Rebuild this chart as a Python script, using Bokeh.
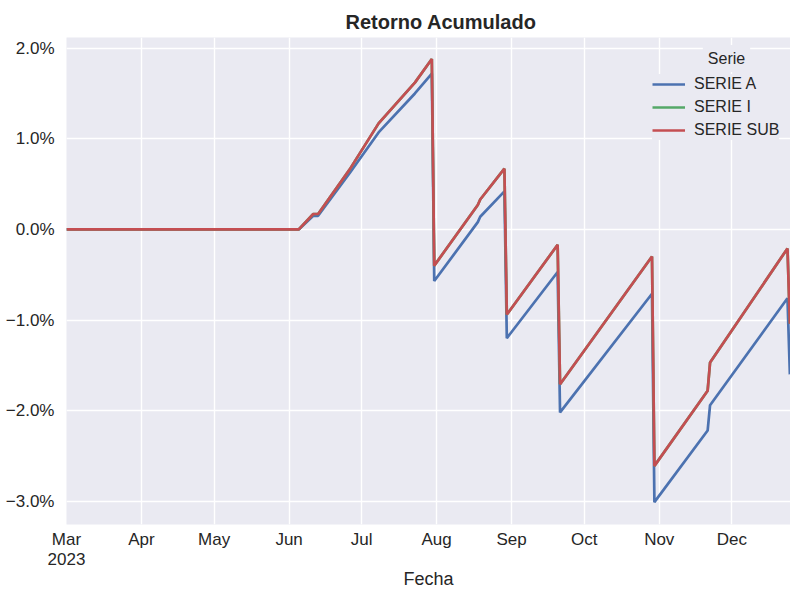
import pandas as pd
from bokeh.plotting import figure
from bokeh.models import FixedTicker, Range1d, Legend, LegendItem, Label
from bokeh.embed import file_html
from bokeh.resources import INLINE

# ---- data (values in %) ----
fechas = ["2023-03-01", "2023-06-05", "2023-06-11", "2023-06-13", "2023-06-26",
          "2023-07-08", "2023-07-23", "2023-07-30", "2023-07-31", "2023-08-18",
          "2023-08-19", "2023-08-29", "2023-08-30", "2023-09-20", "2023-09-21",
          "2023-10-29", "2023-10-30", "2023-11-21", "2023-11-22", "2023-12-24",
          "2023-12-25"]
serie_a = [0.0, 0.0, 0.15, 0.15, 0.62,
           1.07, 1.50, 1.72, -0.57, 0.08,
           0.14, 0.42, -1.20, -0.47, -2.02,
           -0.71, -3.01, -2.22, -1.94, -0.76,
           -1.60]
serie_i = [0.0, 0.0, 0.17, 0.17, 0.66,
           1.17, 1.62, 1.88, -0.40, 0.27,
           0.33, 0.67, -0.94, -0.17, -1.71,
           -0.30, -2.61, -1.78, -1.47, -0.21,
           -1.04]
serie_sub = [0.0, 0.0, 0.17, 0.17, 0.66,
             1.17, 1.62, 1.88, -0.40, 0.27,
             0.33, 0.67, -0.94, -0.17, -1.71,
             -0.30, -2.61, -1.78, -1.47, -0.21,
             -1.04]

y_ticks = [-3, -2, -1, 0, 1, 2]
y_tick_labels = ["\u22123.0%", "\u22122.0%", "\u22121.0%", "0.0%", "1.0%", "2.0%"]
x_tick_dates = ["2023-03-01", "2023-04-01", "2023-05-01", "2023-06-01", "2023-07-01",
                "2023-08-01", "2023-09-01", "2023-10-01", "2023-11-01", "2023-12-01"]
x_tick_labels = ["Mar\n2023", "Apr", "May", "Jun", "Jul", "Aug", "Sep", "Oct", "Nov", "Dec"]
series_names = ["SERIE A", "SERIE I", "SERIE SUB"]
legend_title = "Serie"
x_label = "Fecha"
title = "Retorno Acumulado"

FONT = "Liberation Sans"
TXT = "#262626"
BG = "#eaeaf2"

x = pd.to_datetime(fechas)
x_tick_ms = [int(pd.Timestamp(d).value // 10**6) for d in x_tick_dates]

p = figure(width=790, height=592, x_axis_type="datetime",
           output_backend="svg", toolbar_location=None,
           x_range=Range1d(pd.Timestamp("2023-03-01"), pd.Timestamp("2023-12-25 06:00")),
           y_range=Range1d(-3.257, 2.118),
           min_border_left=66, min_border_right=0, min_border_top=37, min_border_bottom=60)

p.background_fill_color = BG
p.border_fill_color = "white"
p.outline_line_color = None

p.title.text = title
p.title.text_font = FONT
p.title.text_font_size = "20px"
p.title.text_font_style = "bold"
p.title.text_color = TXT
p.title.align = "left"
p.title.offset = 279

xt = FixedTicker(ticks=x_tick_ms)
yt = FixedTicker(ticks=y_ticks)
p.xaxis.ticker = xt
p.yaxis.ticker = yt
p.xgrid.ticker = xt
p.ygrid.ticker = yt
p.xaxis.major_label_overrides = {t: l for t, l in zip(x_tick_ms, x_tick_labels)}
p.yaxis.major_label_overrides = {t: l for t, l in zip(y_ticks, y_tick_labels)}

for ax in (p.xaxis, p.yaxis):
    ax.axis_line_color = None
    ax.major_tick_line_color = None
    ax.minor_tick_line_color = None
    ax.major_tick_out = 0
    ax.major_tick_in = 0
    ax.major_label_text_font = FONT
    ax.major_label_text_font_size = "17px"
    ax.major_label_text_color = TXT
p.xaxis.major_label_standoff = 5
p.xaxis.major_label_text_line_height = 1.1
p.yaxis.major_label_standoff = 12
p.xaxis.axis_label = x_label
p.xaxis.axis_label_text_font = FONT
p.xaxis.axis_label_text_font_size = "18px"
p.xaxis.axis_label_text_font_style = "normal"
p.xaxis.axis_label_text_color = TXT
p.xaxis.axis_label_standoff = -3

p.grid.grid_line_color = "white"
p.grid.grid_line_width = 1.4

r_a = p.line(x, serie_a, line_color="#4c72b0", line_width=2.7)
r_i = p.line(x, serie_i, line_color="#55a868", line_width=2.7)
r_s = p.line(x, serie_sub, line_color="#c44e52", line_width=2.7)

legend = Legend(items=[LegendItem(label=series_names[0], renderers=[r_a]),
                       LegendItem(label=series_names[1], renderers=[r_i]),
                       LegendItem(label=series_names[2], renderers=[r_s])],
                location=(586, 384),
                label_text_font=FONT, label_text_font_size="16px", label_text_color=TXT,
                glyph_width=33, glyph_height=20, label_height=20, spacing=3,
                padding=6, margin=0, label_standoff=9,
                background_fill_color=BG, background_fill_alpha=1.0,
                border_line_color=None)
p.add_layout(legend, "center")
p.add_layout(Label(x=660, y=466, x_units="screen", y_units="screen", text=legend_title,
                   text_font=FONT, text_font_size="16px", text_color=TXT,
                   text_align="center", text_baseline="middle",
                   background_fill_color=BG, background_fill_alpha=1.0, padding=5))

open("out.html", "w").write(file_html(p, INLINE))
